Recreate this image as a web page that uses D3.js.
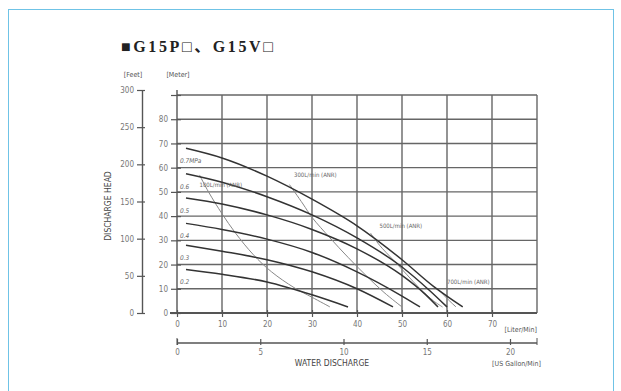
<!DOCTYPE html>
<html><head><meta charset="utf-8">
<script src="https://cdn.jsdelivr.net/npm/d3@7"></script>
<style>
html,body{margin:0;padding:0;background:#fff;}
svg{display:block;}
</style></head>
<body>
<svg id="c" width="621" height="391"></svg>
<script>
// ---- data ----
const title = "■G15P□、G15V□";
const feetTicks = [0, 50, 100, 150, 200, 250, 300];
const meterTicks = [0, 10, 20, 30, 40, 50, 60, 70, 80];
const literTicks = [0, 10, 20, 30, 40, 50, 60, 70];
const gallonTicks = [0, 5, 10, 15, 20];
const pressureLabels = ["0.7MPa", "0.6", "0.5", "0.4", "0.3", "0.2"];
// [L/min, m]
const p07 = [[2,68],[10,64],[20,56.5],[30,47],[40,36],[50,22],[57,11],[63.5,2.5]];
const p06 = [[2,57.5],[10,54],[20,48],[30,40.5],[40,31],[50,19],[56,9.5],[60,2.5]];
const p05 = [[2,47.5],[10,45],[20,40.5],[30,34.5],[40,26.5],[50,15.5],[55,8],[58,2.5]];
const p04 = [[2,37],[10,34.5],[20,30.5],[30,25],[40,17],[50,7],[54,2.5]];
const p03 = [[2,28],[10,25.5],[20,22],[30,17],[40,10],[48,2.5]];
const p02 = [[2,18],[10,16],[20,12.8],[30,7.5],[38,2.5]];
const air100 = [[5,57],[7,50],[10,41],[13,33],[17,24],[21,17],[26,10.5],[30,6.5],[34,2.5]];
const air300 = [[25,53],[28,45],[30,39.5],[34,31],[38,23],[42,15.5],[46,8.5],[50,2.5]];
const air500 = [[43,33],[45,28],[48,22],[51,16],[54,10],[57,5],[59,2.5]];
const air700 = [[58,10],[60,6],[62,2.5]];
const airLabels = ["100L/min (ANR)", "300L/min (ANR)", "500L/min (ANR)", "700L/min (ANR)"];
const airLabelPos = [[5,52],[26,56],[45,35],[60,12]];

const pressures = [p07, p06, p05, p04, p03, p02];
const airs = [air100, air300, air500, air700];

// ---- layout ----
const svg = d3.select("#c");
const X0 = 177, X1 = 537, Y0 = 313, Ytop = 95;
const x = d3.scaleLinear().domain([0, 80]).range([X0, X1]);
const gal = d3.scaleLinear().domain([0, 20]).range([X0, 510]);
const y = d3.scaleLinear().domain([0, 90]).range([Y0, Ytop]);
const yf = d3.scaleLinear().domain([0, 300]).range([Y0, 90]);
const fontTick = "'Liberation Sans Narrow','DejaVu Sans Condensed','Liberation Sans',sans-serif";

// frame
svg.append("rect").attr("x", 8.5).attr("y", 9.5).attr("width", 605).attr("height", 400)
  .attr("fill", "none").attr("stroke", "#6fc3e6").attr("stroke-width", 1);

// title
svg.append("text").attr("x", 121).attr("y", 52).text(title)
  .attr("font-family", "'Liberation Serif','Noto Sans CJK JP',serif").attr("font-weight", "bold")
  .attr("font-size", 16).attr("letter-spacing", 2.6).attr("fill", "#222");

// grid
const g = svg.append("g");
const gridColor = "#666";
d3.range(10, 91, 10).forEach(v => {
  g.append("line").attr("x1", X0).attr("x2", X1).attr("y1", y(v)).attr("y2", y(v))
    .attr("stroke", gridColor).attr("stroke-width", 1.4);
});
d3.range(10, 81, 10).forEach(v => {
  g.append("line").attr("x1", x(v)).attr("x2", x(v)).attr("y1", Y0).attr("y2", Ytop)
    .attr("stroke", gridColor).attr("stroke-width", 1.4);
});

// meter axis
const meterAxis = d3.axisLeft(y).tickValues(meterTicks.concat([90])).tickSize(0)
  .tickFormat(d => meterTicks.includes(d) ? d : "");
const ma = svg.append("g").attr("transform", `translate(${X0},0)`).call(meterAxis);
ma.select(".domain").attr("stroke", "#555").attr("stroke-width", 1.4).attr("d", `M0,${y(0)}V${yf(300)}`);
ma.selectAll(".tick").append("line").attr("x1", -6).attr("x2", 4).attr("stroke", "#555").attr("stroke-width", 1.2);
ma.selectAll(".tick text").attr("x", -9).attr("font-family", fontTick).attr("font-size", 8).attr("fill", "#777");

// feet axis
const feetAxis = d3.axisLeft(yf).tickValues(feetTicks).tickSize(0);
const fa = svg.append("g").attr("transform", "translate(142,0)").call(feetAxis);
fa.select(".domain").attr("stroke", "#555").attr("stroke-width", 1.4);
fa.selectAll(".tick").append("line").attr("x1", -5).attr("x2", 3).attr("stroke", "#555").attr("stroke-width", 1.2);
fa.selectAll(".tick text").attr("x", -8).attr("font-family", fontTick).attr("font-size", 8).attr("fill", "#777");

svg.append("text").attr("x", 133).attr("y", 77).text("[Feet]").attr("text-anchor", "middle")
  .attr("font-family", fontTick).attr("font-size", 7).attr("fill", "#555");
svg.append("text").attr("x", 178).attr("y", 77).text("[Meter]").attr("text-anchor", "middle")
  .attr("font-family", fontTick).attr("font-size", 7).attr("fill", "#555");

// vertical title
svg.append("text").attr("transform", "translate(111,206) rotate(-90)").attr("text-anchor", "middle")
  .text("DISCHARGE HEAD").attr("font-family", fontTick).attr("font-size", 8.5).attr("fill", "#444");

// liter axis
const xa = svg.append("g").attr("transform", `translate(0,${Y0})`)
  .call(d3.axisBottom(x).tickValues(literTicks).tickSize(0).tickPadding(8));
xa.select(".domain").attr("stroke", "#555").attr("stroke-width", 2).attr("d", `M${X0-7},0H${X1}`);
xa.selectAll(".tick").append("line").attr("y1", -3).attr("y2", 4).attr("stroke", "#555").attr("stroke-width", 1.2);
xa.selectAll(".tick text").attr("font-family", fontTick).attr("font-size", 8).attr("fill", "#777");
svg.append("text").attr("x", X1).attr("y", 332).attr("text-anchor", "end").text("[Liter/Min]")
  .attr("font-family", fontTick).attr("font-size", 7).attr("fill", "#555");

// gallon axis
const GY = 343;
const ga = svg.append("g").attr("transform", `translate(0,${GY})`)
  .call(d3.axisBottom(gal).tickValues(gallonTicks).tickSize(0).tickPadding(6));
ga.select(".domain").attr("stroke", "#555").attr("stroke-width", 1.6).attr("d", `M${X0},0H${X1}`);
ga.selectAll(".tick").append("line").attr("y1", -4).attr("y2", 2).attr("stroke", "#555").attr("stroke-width", 1.2);
ga.selectAll(".tick text").attr("font-family", fontTick).attr("font-size", 8).attr("fill", "#777");
svg.append("line").attr("x1", X0).attr("x2", X0).attr("y1", GY - 5).attr("y2", GY + 2).attr("stroke", "#555");
svg.append("line").attr("x1", X1).attr("x2", X1).attr("y1", GY - 5).attr("y2", GY + 2).attr("stroke", "#555");
svg.append("text").attr("x", 332).attr("y", 366).attr("text-anchor", "middle").text("WATER DISCHARGE")
  .attr("font-family", fontTick).attr("font-size", 8.5).attr("fill", "#444");
svg.append("text").attr("x", 541).attr("y", 366).attr("text-anchor", "end").text("[US Gallon/Min]")
  .attr("font-family", fontTick).attr("font-size", 7).attr("fill", "#555");

// curves
const line = d3.line().x(d => x(d[0])).y(d => y(d[1])).curve(d3.curveMonotoneX);
const lineA = d3.line().x(d => x(d[0])).y(d => y(d[1])).curve(d3.curveCatmullRom);
airs.forEach(a => {
  svg.append("path").attr("d", lineA(a)).attr("fill", "none").attr("stroke", "#888").attr("stroke-width", 1);
});
pressures.forEach(p => {
  svg.append("path").attr("d", line(p)).attr("fill", "none").attr("stroke", "#333").attr("stroke-width", 1.5);
});
pressures.forEach((p, i) => {
  svg.append("text").attr("x", x(p[0][0]) - 6).attr("y", y(p[0][1]) + 15).text(pressureLabels[i])
    .attr("font-family", fontTick).attr("font-style", "italic").attr("font-size", 6.5).attr("fill", "#666");
});
airLabels.forEach((t, i) => {
  svg.append("text").attr("x", x(airLabelPos[i][0])).attr("y", y(airLabelPos[i][1])).text(t)
    .attr("font-family", fontTick).attr("font-size", 6).attr("fill", "#666");
});
</script>
</body></html>
